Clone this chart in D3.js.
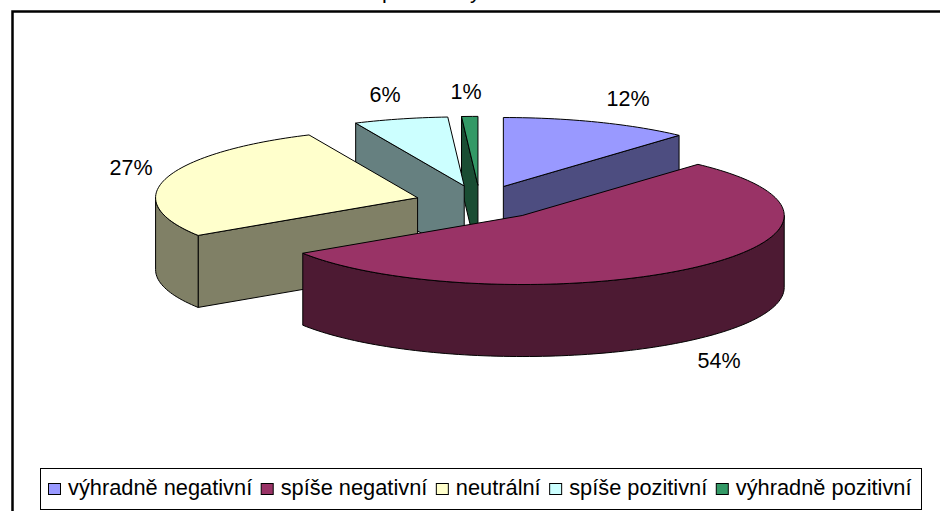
<!DOCTYPE html>
<html>
<head>
<meta charset="utf-8">
<script src="https://cdn.jsdelivr.net/npm/d3@7"></script>
<style>
  html, body { margin: 0; padding: 0; background: #fff; overflow: hidden; }
  svg { display: block; }
  text { font-family: "Liberation Sans", Arial, sans-serif; fill: #000; }
</style>
</head>
<body>
<svg id="chart" width="940" height="511"></svg>
<script>
const categories = ['výhradně negativní', 'spíše negativní', 'neutrální', 'spíše pozitivní', 'výhradně pozitivní'];
const values = [11.7, 54.1, 27.4, 5.8, 1.0];
const valueLabels = ['12%', '54%', '27%', '6%', '1%'];
const topColors = ['#9999ff', '#993366', '#ffffcc', '#ccffff', '#339966'];
const sideColors = ['#4d4d80', '#4d1a33', '#808066', '#668080', '#1a4d33'];
// only the descenders of the title are left inside the picture
const titleScraps = ['p', 'y'];

const svg = d3.select('#chart');

// pie geometry, tilted ellipse
const cx = 480, cy = 202.5, rx = 262, ry = 69, depth = 72, explode = 65;
const labelPos = [[628, 99], [719, 361], [131, 168], [385, 95], [466, 92]];
const titlePos = [[382, -2], [470, -2]];

const project = (a, r) => [r * Math.sin(a), -r * (ry / rx) * Math.cos(a)];

const slices = d3.pie().sort(null)(values).map((d, i) => {
  const mid = (d.startAngle + d.endAngle) / 2;
  const off = project(mid, explode);
  return { i, a0: d.startAngle, a1: d.endAngle, x: cx + off[0], y: cy + off[1] };
});

const line = d3.line();
const stroke = sel => sel.attr('stroke', '#000').attr('stroke-width', 1).attr('stroke-linejoin', 'round');

// points along the rim between two angles
function rim(s, a0, a1, drop) {
  const n = Math.max(2, Math.ceil((a1 - a0) * 40));
  return d3.range(n + 1).map(k => {
    const p = project(a0 + (a1 - a0) * k / n, rx);
    return [s.x + p[0], s.y + p[1] + drop];
  });
}

function edgeWall(s, a) {
  const p = project(a, rx);
  return [[s.x, s.y], [s.x + p[0], s.y + p[1]], [s.x + p[0], s.y + p[1] + depth], [s.x, s.y + depth]];
}

// back slices first
const order = slices.slice().sort((a, b) => a.y - b.y);

order.forEach(s => {
  const g = svg.append('g');
  const side = sideColors[s.i];

  // cut faces that look towards the viewer
  if (Math.sin(s.a0) < -1e-6) {
    g.append('path').attr('d', line(edgeWall(s, s.a0)) + 'Z').attr('fill', side).call(stroke);
  }
  if (Math.sin(s.a1) > 1e-6) {
    g.append('path').attr('d', line(edgeWall(s, s.a1)) + 'Z').attr('fill', side).call(stroke);
  }

  // outer wall, only the front half of the rim shows
  const w0 = Math.max(s.a0, Math.PI / 2), w1 = Math.min(s.a1, Math.PI * 1.5);
  if (w1 > w0) {
    const pts = rim(s, w0, w1, 0).concat(rim(s, w0, w1, depth).reverse());
    g.append('path').attr('d', line(pts) + 'Z').attr('fill', side).call(stroke);
  }

  // top face
  const top = [[s.x, s.y]].concat(rim(s, s.a0, s.a1, 0));
  g.append('path').attr('d', line(top) + 'Z').attr('fill', topColors[s.i]).call(stroke);
});

// outer frame, runs off the picture on the right and at the bottom
svg.append('rect')
  .attr('x', 12.5).attr('y', 11.5).attr('width', 960).attr('height', 540)
  .attr('fill', 'none').attr('stroke', '#000').attr('stroke-width', 2.5);

// title, cut off by the top of the picture
svg.selectAll('.title')
  .data(titleScraps)
  .enter()
  .append('text')
  .attr('class', 'title')
  .attr('x', (d, i) => titlePos[i][0])
  .attr('y', (d, i) => titlePos[i][1])
  .attr('font-size', 21.5)
  .text(d => d);

// value labels
svg.selectAll('.value')
  .data(valueLabels)
  .enter()
  .append('text')
  .attr('class', 'value')
  .attr('x', (d, i) => labelPos[i][0])
  .attr('y', (d, i) => labelPos[i][1])
  .attr('text-anchor', 'middle')
  .attr('font-size', 21.5)
  .attr('dominant-baseline', 'central')
  .text(d => d);

// legend
svg.append('rect')
  .attr('x', 40.5).attr('y', 468.5).attr('width', 881).attr('height', 41)
  .attr('fill', '#fff').attr('stroke', '#000').attr('stroke-width', 1);

let lx = 48.5;
categories.forEach((c, i) => {
  svg.append('rect')
    .attr('x', lx).attr('y', 483.5).attr('width', 12).attr('height', 11)
    .attr('fill', topColors[i]).attr('stroke', '#000');
  const t = svg.append('text')
    .attr('x', lx + 19.5).attr('y', 495)
    .attr('font-size', 21.8)
    .text(c);
  lx += 19.5 + t.node().getComputedTextLength() + 9;
});
</script>
</body>
</html>
